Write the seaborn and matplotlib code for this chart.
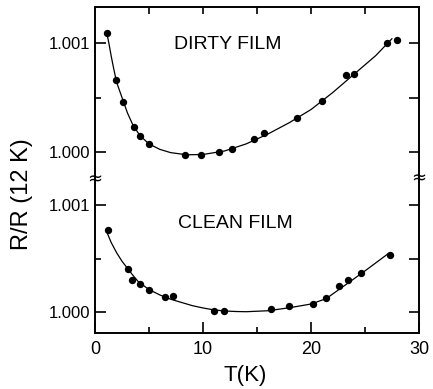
import pandas as pd
import seaborn as sns
import matplotlib.pyplot as plt

# dirty film, measured points
dirty_t = [1.14, 1.94, 2.62, 3.64, 4.17, 5.03, 8.31, 9.81, 11.51, 12.69,
           14.72, 15.65, 18.68, 21.05, 23.24, 24.01, 27.01, 27.96]
dirty_r = [1.001089, 1.000661, 1.000461, 1.000227, 1.000150, 1.000071,
           0.999972, 0.999972, 1.000000, 1.000030, 1.000117, 1.000177,
           1.000309, 1.000471, 1.000706, 1.000716, 1.001000, 1.001028]
# dirty film, drawn curve
dirty_ct = [1.1, 1.3, 1.5, 1.7, 2.0, 2.5, 3.0, 3.5, 4.0, 4.5, 5.0, 6.0, 7.0,
            8.5, 10.0, 12.0, 14.0, 16.0, 18.0, 20.0, 22.0, 24.0, 26.0, 27.5]
dirty_cr = [1.00109, 1.00099, 1.00088, 1.00078, 1.00064, 1.00050, 1.00036,
            1.00025, 1.000175, 1.00012, 1.000075, 1.000025, 0.999995,
            0.999975, 0.999978, 1.00001, 1.000075, 1.000165, 1.00027,
            1.00039, 1.000545, 1.000715, 1.000885, 1.00104]

# clean film, measured points
clean_t = [1.18, 3.08, 3.43, 4.19, 5.03, 6.45, 7.25, 11.05, 11.97, 16.27,
           17.99, 20.16, 21.36, 22.56, 23.45, 24.60, 27.31]
clean_r = [1.000764, 1.000399, 1.000299, 1.000262, 1.000208, 1.000143,
           1.000152, 1.000012, 1.000009, 1.000025, 1.000053, 1.000078,
           1.000128, 1.000246, 1.000302, 1.000362, 1.000533]
# clean film, drawn curve
clean_ct = [1.15, 1.5, 2.0, 2.5, 3.0, 3.5, 4.0, 5.0, 6.0, 7.0, 8.0, 9.0,
            10.0, 11.0, 12.0, 13.0, 14.0, 16.0, 18.0, 20.0, 21.4, 23.0,
            25.0, 27.2]
clean_cr = [1.000735, 1.00065, 1.000555, 1.000475, 1.00041, 1.000345,
            1.000285, 1.00021, 1.00016, 1.00012, 1.00009, 1.00006,
            1.000038, 1.00002, 1.00001, 1.000005, 1.000003, 1.000012,
            1.00004, 1.000075, 1.000125, 1.00024, 1.000385, 1.00055]

sns.set_style("ticks")
plt.rcParams["font.family"] = ["Liberation Sans", "DejaVu Sans"]
plt.rcParams["text.color"] = "black"
plt.rcParams["axes.edgecolor"] = "black"
plt.rcParams["xtick.color"] = "black"
plt.rcParams["ytick.color"] = "black"

fig = plt.figure(figsize=(4.33, 3.89), dpi=100)
ax_top = fig.add_axes([0.2194, 0.537, 0.7483, 0.445])
ax_bot = fig.add_axes([0.2194, 0.144, 0.7483, 0.393])

panels = [
    (ax_top, dirty_t, dirty_r, dirty_ct, dirty_cr, (0.999743, 1.001330), "DIRTY FILM", (0.41, 0.786)),
    (ax_bot, clean_t, clean_r, clean_ct, clean_cr, (0.999804, 1.001234), "CLEAN FILM", (0.432, 0.719)),
]

for ax, t, r, ct, cr, ylim, name, pos in panels:
    pts = pd.DataFrame({"T": t, "R": r})
    crv = pd.DataFrame({"T": ct, "R": cr})
    sns.lineplot(data=crv, x="T", y="R", ax=ax, color="black", lw=0.9, sort=False)
    sns.scatterplot(data=pts, x="T", y="R", ax=ax, color="black", s=28, linewidth=0)
    ax.set_xlim(0, 30)
    ax.set_ylim(*ylim)
    ax.set_xlabel("")
    ax.set_ylabel("")
    ax.set_yticks([1.000, 1.001])
    ax.set_yticklabels(["1.000", "1.001"])
    ax.set_yticks([1.0005], minor=True)
    ax.tick_params(axis="y", which="major", direction="in", length=8, width=1.2,
                   labelsize=12, pad=3.5, right=False)
    ax.tick_params(axis="y", which="minor", direction="in", length=4, width=1.2, right=False)
    for s in ax.spines.values():
        s.set_linewidth(1.4)
    ax.text(pos[0], pos[1], name, transform=ax.transAxes, fontsize=14, ha="center", va="center")
    # right side ticks, all the same length
    tw = ax.twinx()
    tw.set_ylim(*ylim)
    tw.set_yticks([1.000, 1.0005, 1.001])
    tw.tick_params(axis="y", direction="in", length=7, width=1.2, labelright=False)
    for s in tw.spines.values():
        s.set_visible(False)

ax_top.spines["bottom"].set_visible(False)
ax_top.set_xticks([5, 10, 15, 20, 25])
ax_top.tick_params(axis="x", bottom=False, top=True, labelbottom=False,
                   direction="in", length=5, width=1.2)

ax_bot.spines["top"].set_visible(False)
ax_bot.set_xticks([0, 10, 20, 30])
ax_bot.set_xticks([5, 15, 25], minor=True)
ax_bot.tick_params(axis="x", which="major", direction="in", length=8, width=1.2,
                   labelsize=13, pad=6)
ax_bot.tick_params(axis="x", which="minor", direction="in", length=4, width=1.2)

# axis break marks
fig.text(95 / 433, 1 - 179 / 389, "≈", fontsize=13, ha="center", va="center",
         family=["DejaVu Sans"])
fig.text(419 / 433, 1 - 178 / 389, "≈", fontsize=13, ha="center", va="center",
         family=["DejaVu Sans"])

fig.text(22 / 433, 1 - 194 / 389, "R/R (12 K)", rotation=90, fontsize=17,
         ha="center", va="center")
fig.text(245 / 433, 1 - 376 / 389, "T(K)", fontsize=16, ha="center", va="center")

fig.savefig("out.png", dpi=100)
